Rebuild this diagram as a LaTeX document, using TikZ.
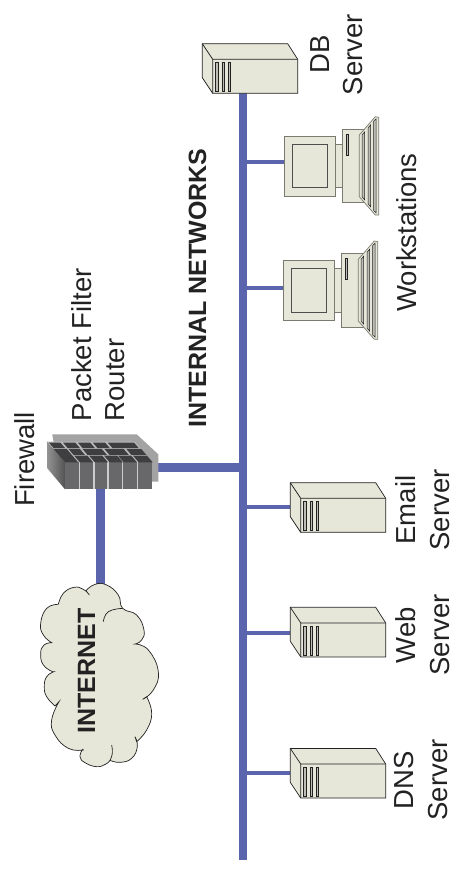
\documentclass[tikz,border=0pt]{standalone}
\usepackage{fontspec}
\setmainfont{Liberation Sans}
\definecolor{busblue}{HTML}{5B65AE}
\definecolor{beige}{HTML}{E6E6D9}
\definecolor{ink}{HTML}{222222}
\definecolor{edgegray}{HTML}{7A7A70}
\definecolor{plategray}{HTML}{A3A3A3}
\definecolor{brickdark}{HTML}{3E3E40}
\definecolor{colgray}{HTML}{68686A}
\tikzset{
  bus/.style={draw=busblue,line width=8pt},
  branch/.style={draw=busblue,line width=4pt},
  link/.style={draw=busblue,line width=8.8pt},
  body/.style={fill=beige,draw=ink,line width=0.7pt,line join=miter},
  softbody/.style={fill=beige,draw=edgegray,line width=0.9pt},
  slotbar/.style={fill=beige!60!gray,draw=ink,line width=0.5pt},
  label/.style={rotate=90,inner sep=0pt,text=ink,align=center,font=\fontsize{27.5}{33.5}\selectfont},
  boldlabel/.style={rotate=90,inner sep=0pt,text=ink,font=\fontsize{25}{30}\selectfont\bfseries},
  serverpic/.pic={
    \draw[body] (0,0)--(85.4,0)--(95.4,15.6)--(95.4,49.6)--(10.4,49.6)--(0,34)--cycle;
    \draw[ink,line width=0.7pt] (0,0)--(10.4,15.6)--(10.4,49.6) (10.4,15.6)--(95.4,15.6);
    \foreach \q in {13.2,19.7,25.7}
      \draw[slotbar] (\q,19) rectangle (\q+2.6,48);
  },
  stationpic/.pic={
    \draw[softbody] (51.4,8.3) rectangle (57.7,51.7);
    \draw[softbody] (57.7,-6.7) rectangle (80,66.7);
    \draw[slotbar] (61.7,-2) rectangle (64.4,19.3);
    \draw[softbody,line width=0.7pt] (75,-1)--(91,-19.3)--(94.4,-18.7)--(94.4,79)--(91,79)--(75,60.7)--cycle;
    \draw[slotbar] (77.7,-1)--(80.2,-4)--(80.2,63.7)--(77.7,60.7)--cycle;
    \draw[slotbar] (83.7,-8)--(86.2,-11)--(86.2,70.7)--(83.7,67.7)--cycle;
    \draw[slotbar] (89.2,-14.7)--(91.7,-17)--(91.7,76.7)--(89.2,74.4)--cycle;
    \draw[softbody] (0,0) rectangle (51.4,60);
    \draw[fill=beige,draw=ink!80,line width=0.8pt] (8,8.3) rectangle (43,51.7);
  }
}
\newcommand{\topbrick}[4]{%
  \fill[brickdark] ({47.3+87.7*#1+17.7*#2},{441.7+20.6*#2})
    --({47.3+87.7*#3+17.7*#2},{441.7+20.6*#2})
    --({47.3+87.7*#3+17.7*#4},{441.7+20.6*#4})
    --({47.3+87.7*#1+17.7*#4},{441.7+20.6*#4})--cycle;}
\begin{document}
\begin{tikzpicture}[x=1pt,y=-1pt]
\useasboundingbox (0,0) rectangle (450,876);
\clip (0,0) rectangle (450,876);
\fill[white] (0,0) rectangle (450,876);

% anchor points
\coordinate (busTop) at (243.3,93.3);
\coordinate (busEnd) at (243.3,859.5);
\coordinate (dnsPort) at (290.3,773.3);
\coordinate (webPort) at (290.3,632.7);
\coordinate (mailPort) at (290.3,506.7);
\coordinate (ws1Port) at (283.3,287.7);
\coordinate (ws2Port) at (284.3,162.3);
\coordinate (fwRight) at (158.3,467.3);
\coordinate (fwBottom) at (100.5,489);
\coordinate (cloudTop) at (100.5,590);

% connectors
\draw[bus] (busTop)--(busEnd);
\draw[branch] (busTop |- dnsPort)--(dnsPort);
\draw[branch] (busTop |- webPort)--(webPort);
\draw[branch] (busTop |- mailPort)--(mailPort);
\draw[branch] (busTop |- ws1Port)--(ws1Port);
\draw[branch] (busTop |- ws2Port)--(ws2Port);
\draw[link] (fwRight)--(busTop |- fwRight);
\draw[link] (fwBottom)--(cloudTop);

% servers
\pic at (202.3,43.7) {serverpic};
\pic at (290.3,482.7) {serverpic};
\pic at (290.3,607.3) {serverpic};
\pic at (290.3,748.4) {serverpic};
% workstations
\pic at (284.3,136) {stationpic};
\pic at (283.3,260.3) {stationpic};

% firewall
\fill[plategray] (52.3,434.3)--(136.7,434.3)--(158.3,454.3)--(158.3,481.7)--(60,481.7)--cycle;
\fill[gray!55] (47.3,441.7)--(135,441.7)--(151.7,462.3)--(65,462.3)--cycle;
\shade[left color=gray!85,right color=gray!65!black] (47.3,441.7)--(65,462.3)--(65,489.3)--(47.3,468.3)--cycle;
\fill[gray!40] (65,462.3) rectangle (151.7,489.3);
\foreach \a/\b in {65/79.3,80/93.3,95/107.3,109.3/122,123.3/136.7,138.3/151.7}
  \fill[colgray] (\a,462.3) rectangle (\b,489.3);
% top bricks, back row
\topbrick{0.01}{0.05}{0.14}{0.31}\topbrick{0.17}{0.05}{0.31}{0.31}\topbrick{0.34}{0.05}{0.48}{0.31}
\topbrick{0.51}{0.05}{0.65}{0.31}\topbrick{0.68}{0.05}{0.98}{0.31}
% middle row
\topbrick{0.17}{0.35}{0.30}{0.64}\topbrick{0.33}{0.35}{0.55}{0.64}\topbrick{0.58}{0.35}{0.80}{0.64}\topbrick{0.83}{0.35}{1.0}{0.64}
% front row
\topbrick{0.0}{0.35}{0.15}{1}\topbrick{0.17}{0.68}{0.32}{1}\topbrick{0.34}{0.68}{0.49}{1}
\topbrick{0.51}{0.68}{0.66}{1}\topbrick{0.67}{0.68}{0.82}{1}\topbrick{0.84}{0.68}{1.0}{1}

% cloud
\begin{scope}[shift={(0,570)},scale=1/3]
\draw[fill=beige,draw=ink,line width=0.7pt,smooth,tension=0.8]
  plot coordinates {(175,103)(190,70)(222,52)(250,58)(268,75)}
  -- plot coordinates {(258,62)(285,43)(320,45)(355,75)(368,115)(410,135)(432,180)(425,210)(405,222)}
  -- plot coordinates {(405,222)(445,240)(475,305)(460,360)(428,388)}
  -- plot coordinates {(440,380)(455,430)(440,480)(410,515)}
  -- plot coordinates {(405,500)(412,530)(395,565)(360,577)(330,571)}
  -- plot coordinates {(330,571)(318,582)(290,590)(255,578)(240,560)(248,538)}
  -- plot coordinates {(250,540)(205,535)(165,495)(155,450)(177,395)}
  -- plot coordinates {(165,408)(140,380)(133,350)(140,320)(162,305)}
  -- plot coordinates {(158,305)(130,285)(122,250)(132,225)(155,218)}
  -- plot coordinates {(155,218)(130,195)(122,160)(140,115)(175,103)};
\draw[ink,line width=0.7pt,smooth,tension=0.8] plot coordinates {(310,155)(325,125)(368,115)};
\draw[ink,line width=0.7pt,smooth,tension=0.8] plot coordinates {(330,571)(337,550)(335,525)};
\end{scope}

% labels
\node[boldlabel] (internet) at (86.6,670.8) {INTERNET};
\node[boldlabel] (internal) at (197.6,288) {INTERNAL NETWORKS};
\node[label] (firewall) at (25,459.5) {Firewall};
\node[label,align=left,anchor=west] (pfr) at (98.4,421.5) {Packet Filter\\Router};
\node[label] (db) at (336.8,54.5) {DB\\Server};
\node[label] (ws) at (406.7,232.5) {Workstations};
\node[label] (mail) at (422.5,510) {Email\\Server};
\node[label] (web) at (422.5,635) {Web\\Server};
\node[label] (dns) at (421,780) {DNS\\Server};
\end{tikzpicture}
\end{document}
